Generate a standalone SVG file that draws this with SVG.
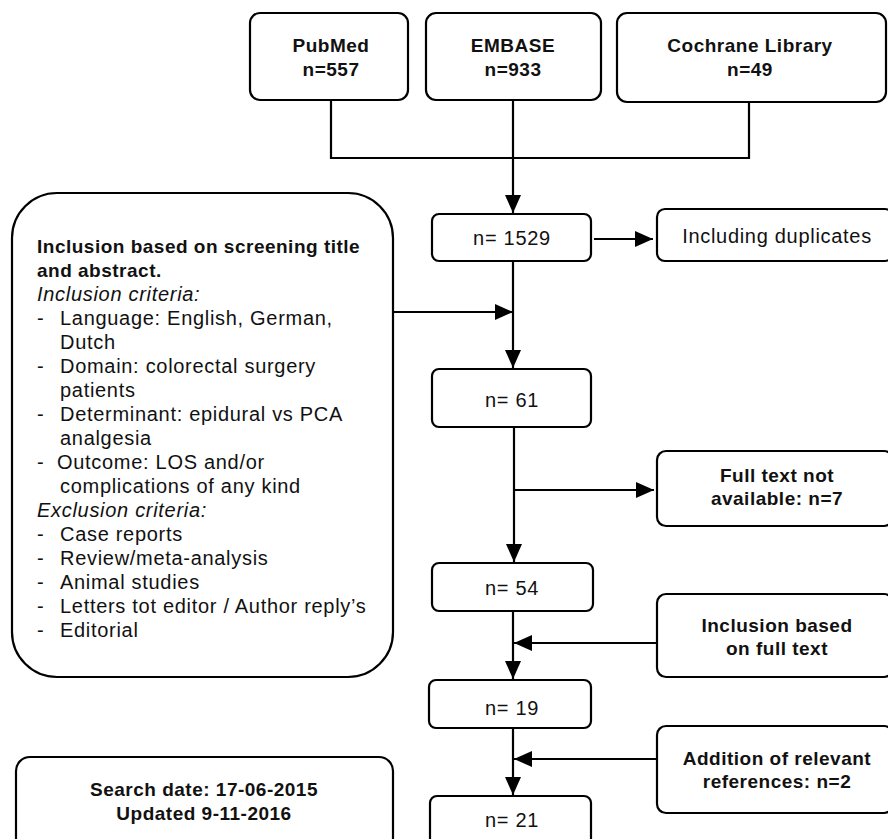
<svg xmlns="http://www.w3.org/2000/svg" width="888" height="839" viewBox="0 0 888 839">
<defs>
<style>
.box{fill:#fff;stroke:#000;stroke-width:2.2}
.ln{fill:none;stroke:#000;stroke-width:2.2}
.t{font-family:"Liberation Sans",Arial,sans-serif;font-size:20px;letter-spacing:0.7px;fill:#111}
.b{font-family:"Liberation Sans",Arial,sans-serif;font-size:19px;font-weight:bold;letter-spacing:0.5px;fill:#111}
.i{font-style:italic}
.m{text-anchor:middle}
</style>
<marker id="ah" markerUnits="userSpaceOnUse" markerWidth="20" markerHeight="16" refX="18" refY="8" orient="auto">
<path d="M0,0 L18,8 L0,16 Z" fill="#000"/>
</marker>
</defs>
<rect width="888" height="839" fill="#fff"/>

<g id="connectors">
<polyline class="ln" points="331,100 331,158 749,158 749,99"/>
<line class="ln" x1="513" y1="100" x2="513" y2="213" marker-end="url(#ah)"/>
<line class="ln" x1="594" y1="239" x2="653" y2="239" marker-end="url(#ah)"/>
<line class="ln" x1="513" y1="261" x2="513" y2="368" marker-end="url(#ah)"/>
<line class="ln" x1="393" y1="312" x2="513" y2="312" marker-end="url(#ah)"/>
<line class="ln" x1="514" y1="427" x2="514" y2="562" marker-end="url(#ah)"/>
<line class="ln" x1="514" y1="490" x2="654" y2="490" marker-end="url(#ah)"/>
<line class="ln" x1="513" y1="611" x2="513" y2="679" marker-end="url(#ah)"/>
<line class="ln" x1="657" y1="643" x2="514" y2="643" marker-end="url(#ah)"/>
<line class="ln" x1="513" y1="728" x2="513" y2="795" marker-end="url(#ah)"/>
<line class="ln" x1="657" y1="759" x2="514" y2="759" marker-end="url(#ah)"/>
</g>

<g id="pubmed">
<rect class="box" x="250" y="13" width="158" height="87" rx="10"/>
<text class="b m" x="331" y="52">PubMed</text>
<text class="b m" x="331" y="76">n=557</text>
</g>
<g id="embase">
<rect class="box" x="426" y="13" width="175" height="87" rx="10"/>
<text class="b m" x="513" y="52">EMBASE</text>
<text class="b m" x="513" y="76">n=933</text>
</g>
<g id="cochrane">
<rect class="box" x="617" y="13" width="269" height="89" rx="10"/>
<text class="b m" x="750" y="52">Cochrane Library</text>
<text class="b m" x="750" y="76">n=49</text>
</g>

<g id="screening">
<rect class="box" x="12" y="193" width="381" height="484" rx="45"/>
<text class="b" x="37" y="253">Inclusion based on screening title</text>
<text class="b" x="37" y="277">and abstract.</text>
<text class="t i" x="37" y="301">Inclusion criteria:</text>
<text class="t" x="37" y="325">-</text><text class="t" x="60" y="325">Language: English, German,</text>
<text class="t" x="60" y="349">Dutch</text>
<text class="t" x="37" y="373">-</text><text class="t" x="60" y="373">Domain: colorectal surgery</text>
<text class="t" x="60" y="397">patients</text>
<text class="t" x="37" y="421">-</text><text class="t" x="60" y="421">Determinant: epidural vs PCA</text>
<text class="t" x="60" y="445">analgesia</text>
<text class="t" x="37" y="469">-</text><text class="t" x="57" y="469">Outcome: LOS and/or</text>
<text class="t" x="60" y="493">complications of any kind</text>
<text class="t i" x="37" y="517">Exclusion criteria:</text>
<text class="t" x="37" y="541">-</text><text class="t" x="60" y="541">Case reports</text>
<text class="t" x="37" y="565">-</text><text class="t" x="60" y="565">Review/meta-analysis</text>
<text class="t" x="37" y="589">-</text><text class="t" x="60" y="589">Animal studies</text>
<text class="t" x="37" y="613">-</text><text class="t" x="60" y="613">Letters tot editor / Author reply’s</text>
<text class="t" x="37" y="637">-</text><text class="t" x="60" y="637">Editorial</text>
</g>

<g id="n1529">
<rect class="box" x="432" y="214" width="159" height="47" rx="7"/>
<text class="t m" x="512" y="245">n= 1529</text>
</g>
<g id="duplicates">
<rect class="box" x="657" y="209" width="236" height="52" rx="8"/>
<text class="t m" x="777" y="243">Including duplicates</text>
</g>
<g id="n61">
<rect class="box" x="432" y="369" width="159" height="58" rx="7"/>
<text class="t m" x="512" y="407">n= 61</text>
</g>
<g id="fulltextna">
<rect class="box" x="657" y="451" width="236" height="75" rx="9"/>
<text class="b m" x="777" y="482">Full text not</text>
<text class="b m" x="777" y="505">available: n=7</text>
</g>
<g id="n54">
<rect class="box" x="432" y="563" width="161" height="48" rx="7"/>
<text class="t m" x="512" y="595">n= 54</text>
</g>
<g id="fulltext">
<rect class="box" x="657" y="594" width="236" height="83" rx="9"/>
<text class="b m" x="777" y="632">Inclusion based</text>
<text class="b m" x="777" y="655">on full text</text>
</g>
<g id="n19">
<rect class="box" x="429" y="680" width="162" height="48" rx="7"/>
<text class="t m" x="512" y="715">n= 19</text>
</g>
<g id="addition">
<rect class="box" x="657" y="726" width="236" height="87" rx="9"/>
<text class="b m" x="777" y="765">Addition of relevant</text>
<text class="b m" x="777" y="788">references: n=2</text>
</g>
<g id="n21">
<rect class="box" x="430" y="796" width="161" height="60" rx="7"/>
<text class="t m" x="512" y="827">n= 21</text>
</g>
<g id="searchdate">
<rect class="box" x="16" y="757" width="377" height="95" rx="14"/>
<text class="b m" x="204" y="796">Search date: 17-06-2015</text>
<text class="b m" x="204" y="820">Updated 9-11-2016</text>
</g>
</svg>
